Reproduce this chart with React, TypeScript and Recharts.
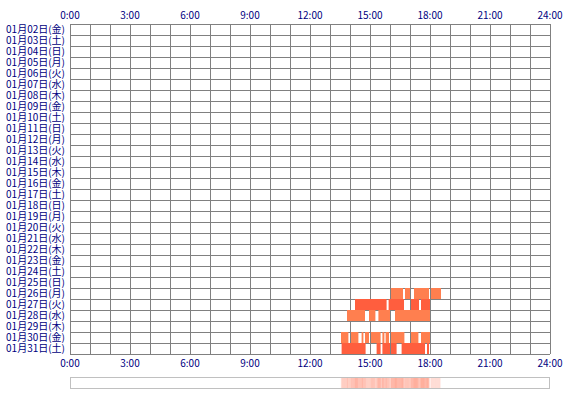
import { ComposedChart, XAxis, YAxis, CartesianGrid, ReferenceArea, BarChart, Bar, Cell } from 'recharts';

// row labels, top to bottom
const days = [
  '01月02日(金)', '01月03日(土)', '01月04日(日)', '01月05日(月)', '01月06日(火)',
  '01月07日(水)', '01月08日(木)', '01月09日(金)', '01月10日(土)', '01月11日(日)',
  '01月12日(月)', '01月13日(火)', '01月14日(水)', '01月15日(木)', '01月16日(金)',
  '01月17日(土)', '01月18日(日)', '01月19日(月)', '01月20日(火)', '01月21日(水)',
  '01月22日(木)', '01月23日(金)', '01月24日(土)', '01月25日(日)', '01月26日(月)',
  '01月27日(火)', '01月28日(水)', '01月29日(木)', '01月30日(金)', '01月31日(土)',
];

const hourTicks = [0, 1, 2, 3, 4, 5, 6, 7, 8, 9, 10, 11, 12, 13, 14, 15, 16, 17, 18, 19, 20, 21, 22, 23, 24];
const labeledHours = [0, 3, 6, 9, 12, 15, 18, 21, 24];

// active spans per day, in hours [from, to]
const jan26 = [[16.05, 16.65], [16.75, 17.0], [17.2, 17.95], [18.05, 18.55]];
const jan27 = [[14.25, 15.83], [15.93, 16.7], [17.05, 17.45], [17.55, 18.0]];
const jan28 = [[13.85, 14.75], [14.95, 15.27], [15.42, 16.0], [16.25, 18.0]];
const jan30 = [
  [13.55, 13.92], [14.05, 14.42], [14.58, 14.67], [14.75, 14.95], [15.05, 15.53],
  [15.62, 15.72], [15.78, 15.95], [16.05, 16.72], [17.05, 17.42], [17.55, 18.0],
];
const jan31 = [[13.58, 14.78], [15.33, 15.53], [15.62, 16.0], [16.05, 16.33], [16.58, 17.75], [17.85, 17.95]];

const sessions = [
  { day: '01月26日(月)', spans: jan26 },
  { day: '01月27日(火)', spans: jan27 },
  { day: '01月28日(水)', spans: jan28 },
  { day: '01月30日(金)', spans: jan30 },
  { day: '01月31日(土)', spans: jan31 },
];

const LIGHT = '#FF7F4F';
const DARK = '#FF5E3E';
const dayColor: Record<string, string> = {
  '01月26日(月)': LIGHT,
  '01月27日(火)': DARK,
  '01月28日(水)': LIGHT,
  '01月30日(金)': LIGHT,
  '01月31日(土)': DARK,
};

const font = { fontFamily: "'Noto Sans CJK JP', sans-serif", fontSize: 10, fill: '#000080' };

// one record per span, so the chart has data for its axes
const spanRows = sessions.flatMap(s =>
  s.spans.map(([a, b]) => ({ day: s.day, row: days.indexOf(s.day), from: a, to: b })));

// density strip: how many spans cover each 3-minute slot
const slots = [];
for (let i = 0; i < 480; i++) {
  const t = (i + 0.5) * 0.05;
  let n = 0;
  spanRows.forEach(r => { if (t >= r.from && t < r.to) n++; });
  slots.push({ slot: i, v: 1, n });
}

const hourFmt = (h: number) => (labeledHours.includes(h) ? `${h}:00` : '');

export default function App() {
  const rowTicks = days.map((_, i) => i);
  rowTicks.push(days.length);
  const labelTicks = days.map((_, i) => i + 0.5);

  return (
    <div style={{ position: 'relative', width: 570, height: 400, background: '#fff' }}>
      <style>{'body{margin:0}'}</style>
      <ComposedChart width={570} height={400} data={spanRows} margin={{ top: 0, right: 20, bottom: 0, left: 0 }}>
        <XAxis dataKey="from" type="number" domain={[0, 24]} ticks={hourTicks} interval={0} tickFormatter={hourFmt}
          height={46} axisLine={false} tickLine={false} tickSize={0} tickMargin={6} tick={font} />
        <XAxis xAxisId="top" dataKey="from" orientation="top" type="number" domain={[0, 24]} ticks={hourTicks} interval={0}
          tickFormatter={hourFmt} height={24} axisLine={false} tickLine={false} tickSize={0} tickMargin={5} tick={font} />
        <YAxis dataKey="row" type="number" domain={[0, days.length]} reversed ticks={rowTicks} interval={0} width={0} hide />
        <YAxis yAxisId="lab" dataKey="row" type="number" domain={[0, days.length]} reversed ticks={labelTicks} interval={0}
          tickFormatter={(v: number) => days[Math.floor(v)]} width={70} axisLine={false} tickLine={false}
          tickSize={0} tickMargin={5} tick={font} />
        {spanRows.map((r, k) => (
          <ReferenceArea key={k} x1={r.from} x2={r.to} y1={r.row} y2={r.row + 1}
            fill={dayColor[r.day]} fillOpacity={1} stroke="none" ifOverflow="visible" />
        ))}
        <CartesianGrid stroke="#808080" strokeWidth={1} strokeOpacity={1} shapeRendering="crispEdges" />
      </ComposedChart>
      <div style={{ position: 'absolute', left: 70, top: 377, width: 478, height: 10, border: '1px solid #C0C0C0' }}>
        <BarChart width={478} height={10} data={slots} margin={{ top: 0, right: 0, bottom: 0, left: 0 }}
          barCategoryGap={0} barGap={0}>
          <XAxis dataKey="slot" hide />
          <YAxis domain={[0, 1]} hide />
          <Bar dataKey="v" isAnimationActive={false}>
            {slots.map(d => (
              <Cell key={d.slot} fill="#FF6A4A" fillOpacity={d.n ? 0.14 + 0.1 * d.n : 0} />
            ))}
          </Bar>
        </BarChart>
      </div>
    </div>
  );
}
